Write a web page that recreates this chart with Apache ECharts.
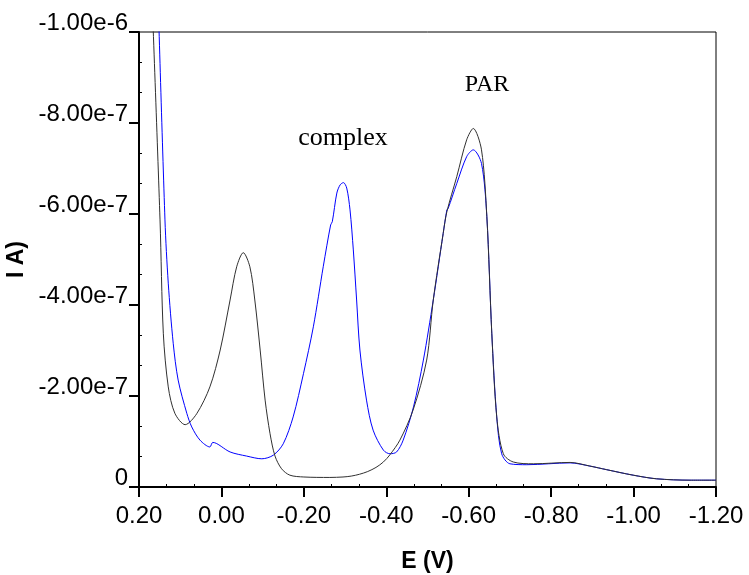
<!DOCTYPE html>
<html>
<head>
<meta charset="utf-8">
<script src="https://cdn.jsdelivr.net/npm/echarts@6/dist/echarts.min.js"></script>
<style>
html,body{margin:0;padding:0;background:#fff;}
#chart{width:749px;height:575px;}
</style>
</head>
<body>
<div id="chart"></div>
<script>
// Potential E (V)
var blackE = [0.170, 0.149, 0.141, 0.129, 0.113, 0.088, 0.060, 0.028, 0.003, -0.021,
  -0.037, -0.053, -0.069, -0.081, -0.094, -0.106, -0.118, -0.130, -0.146, -0.166,
  -0.200, -0.263, -0.295, -0.315, -0.335, -0.355, -0.375, -0.393, -0.409, -0.433,
  -0.465, -0.498, -0.514, -0.538, -0.547,
  -0.571, -0.595, -0.611, -0.631, -0.644, -0.656, -0.668, -0.684, -0.708, -0.757,
  -0.846, -0.894, -0.935, -0.999, -1.056, -1.137, -1.200];
// Current in units of 1e-7 A
var blackI = [-11.15, -5.87, -3.38, -2.20, -1.62, -1.37, -1.61, -2.20, -3.01, -4.11,
  -4.84, -5.15, -4.84, -4.11, -3.01, -1.91, -1.17, -0.68, -0.40, -0.26,
  -0.22, -0.21, -0.22, -0.24, -0.28, -0.34, -0.43, -0.55, -0.71, -1.03,
  -1.69, -2.79, -4.11, -5.57, -6.05,
  -6.82, -7.63, -7.88, -7.41, -5.94, -3.38, -1.54, -0.73, -0.55, -0.51,
  -0.54, -0.46, -0.38, -0.26, -0.18, -0.15, -0.15];

var blueE = [0.155, 0.137, 0.129, 0.117, 0.105, 0.084, 0.072, 0.052, 0.028, 0.021,
  -0.021, -0.061, -0.098, -0.126, -0.150, -0.174, -0.199, -0.223, -0.247, -0.265,
  -0.269, -0.280, -0.288, -0.296, -0.304, -0.312, -0.320, -0.328, -0.336, -0.352,
  -0.368, -0.393, -0.409, -0.425, -0.441, -0.466, -0.490, -0.514, -0.538, -0.547,
  -0.550, -0.571, -0.595, -0.611, -0.631, -0.644, -0.656, -0.668, -0.680, -0.700,
  -0.741, -0.846, -0.894, -0.935, -0.999, -1.056, -1.137, -1.200];
var blueI = [-11.15, -5.87, -4.48, -3.16, -2.35, -1.62, -1.32, -1.03, -0.88, -0.98,
  -0.77, -0.68, -0.62, -0.70, -0.95, -1.54, -2.49, -3.52, -4.84, -5.76,
  -5.83, -6.46, -6.64, -6.69, -6.57, -6.09, -5.21, -4.11, -3.01, -1.91,
  -1.25, -0.81, -0.73, -0.77, -1.03, -1.76, -2.79, -4.11, -5.57, -6.09,
  -6.12, -6.67, -7.26, -7.41, -7.11, -5.94, -3.38, -1.54, -0.73, -0.51,
  -0.49, -0.53, -0.46, -0.38, -0.26, -0.18, -0.15, -0.15];

var xMin = -1.2, xMax = 0.2, xStep = 0.2;
var yMin = -1.0e-6, yMax = 0, yStep = 2.0e-7;
var annotations = ['complex', 'PAR'];

function pairs(E, I) {
  var out = [];
  for (var i = 0; i < E.length; i++) out.push([E[i], I[i] * 1e-7]);
  return out;
}

var chart = echarts.init(document.getElementById('chart'), null, {renderer: 'canvas'});
var sans = '"Liberation Sans", Arial, sans-serif';
var serif = '"Liberation Serif", "Times New Roman", serif';

var xBase = {
  type: 'value', min: xMin, max: xMax, interval: xStep, inverse: true,
  position: 'bottom', splitLine: {show: false}
};
var yBase = {
  type: 'value', min: yMin, max: yMax, interval: yStep, inverse: true,
  position: 'left', splitLine: {show: false}
};

var option = {
  animation: false,
  backgroundColor: '#fff',
  grid: {left: 139, right: 33, top: 32, bottom: 88, show: true,
    containLabel: false, outerBoundsMode: 'none',
    borderColor: '#000', borderWidth: 1, backgroundColor: 'transparent'},
  xAxis: [
    Object.assign({}, xBase, {
      name: 'E (V)', nameLocation: 'middle', nameGap: 63,
      nameTextStyle: {fontFamily: sans, fontSize: 23, fontWeight: 'bold', color: '#000'},
      axisLine: {onZero: false, lineStyle: {color: '#000', width: 2}},
      axisTick: {show: true, length: 10, lineStyle: {color: '#000', width: 2}},
      axisLabel: {margin: 21, fontFamily: sans, fontSize: 24, color: '#000', lineHeight: 17,
        formatter: function (v) { return (Math.abs(v) < 1e-9 ? 0 : v).toFixed(2); }}
    }),
    Object.assign({}, xBase, {
      axisLine: {show: false, onZero: false},
      axisTick: {show: false, inside: true},
      axisLabel: {show: false},
      minorTick: {show: true, splitNumber: 3, length: 3, lineStyle: {color: '#000', width: 1}}
    })
  ],
  yAxis: [
    Object.assign({}, yBase, {
      name: 'I A)', nameLocation: 'middle', nameGap: 101,
      nameTextStyle: {fontFamily: sans, fontSize: 23, fontWeight: 'bold', color: '#000'},
      axisLine: {onZero: false, lineStyle: {color: '#000', width: 2}},
      axisTick: {show: true, length: 10, lineStyle: {color: '#000', width: 2}},
      axisLabel: {margin: 11, fontFamily: sans, fontSize: 24, color: '#000',
        verticalAlign: 'bottom', lineHeight: 17,
        formatter: function (v) { return Math.abs(v) < 1e-12 ? '0' : v.toExponential(2); }}
    }),
    Object.assign({}, yBase, {
      axisLine: {show: false, onZero: false},
      axisTick: {show: false, inside: true},
      axisLabel: {show: false},
      minorTick: {show: true, splitNumber: 3, length: 3, lineStyle: {color: '#000', width: 1}}
    })
  ],
  series: [
    {
      type: 'line', name: 'blue', xAxisIndex: 0, yAxisIndex: 0,
      data: pairs(blueE, blueI), showSymbol: false, smooth: 0.3, clip: true,
      lineStyle: {color: '#0000ff', width: 1}, itemStyle: {color: '#0000ff'}
    },
    {
      type: 'line', name: 'black', xAxisIndex: 0, yAxisIndex: 0,
      data: pairs(blackE, blackI), showSymbol: false, smooth: 0.3, clip: true,
      lineStyle: {color: '#303030', width: 1}, itemStyle: {color: '#303030'}
    }
  ],
  graphic: [
    {type: 'text', x: 343, y: 138.5, z: 10,
      style: {text: annotations[0], font: '26px ' + serif, fill: '#000', align: 'center', verticalAlign: 'middle'}},
    {type: 'text', x: 487, y: 84.5, z: 10,
      style: {text: annotations[1], font: '24px ' + serif, fill: '#000', align: 'center', verticalAlign: 'middle'}}
  ]
};
chart.setOption(option);
</script>
</body>
</html>
